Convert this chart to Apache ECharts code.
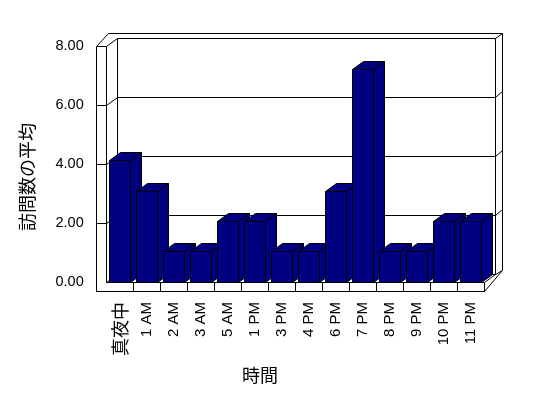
<!DOCTYPE html>
<html>
<head>
<meta charset="utf-8">
<script src="https://cdn.jsdelivr.net/npm/echarts@6/dist/echarts.min.js"></script>
<style>
html,body{margin:0;padding:0;background:#fff;}
#c{width:548px;height:398px;}
</style>
</head>
<body>
<div id="c"></div>
<script>
const categories = ["真夜中","1 AM","2 AM","3 AM","5 AM","1 PM","3 PM","4 PM","6 PM","7 PM","8 PM","9 PM","10 PM","11 PM"];
const values = [4.14, 3.08, 1.03, 1.03, 2.07, 2.07, 1.03, 1.03, 3.08, 7.22, 1.03, 1.03, 2.07, 2.07];
const yMin = 0, yMax = 8, yStep = 2;
const gridValues = [2, 4, 6];
const xName = "時間";
const yName = "訪問数の平均";

const DX = 11, DY = -8;        // depth offset of back plane / bar depth
const WALL = 10;               // left wall & floor thickness
const c = v => Math.round(v - 0.5) + 0.5;
const NAVY = '#000080';
const LINE = {stroke:'#000', lineWidth:1, fill:'none'};

const chart = echarts.init(document.getElementById('c'), null, {renderer:'canvas'});

function frameItem(params, api){
  const band = api.size([1, 0])[0];
  const p0 = api.coord([0, yMin]);
  const L = c(p0[0] - band/2);
  const R = c(L + band * categories.length);
  const Y0 = c(p0[1]);
  const YT = c(api.coord([0, yMax])[1]);
  const ch = [];
  const white = {fill:'#fff', stroke:'#000', lineWidth:1};
  // silhouette
  ch.push({type:'polygon', shape:{points:[
    [L-WALL, YT],[L+2, YT-13],[R+DX+7, YT-13],[R+DX+7, Y0+DY-4],[R, Y0+WALL-1],[L-WALL, Y0+WALL-1]
  ]}, style:white});
  // back wall inner face
  ch.push({type:'rect', shape:{x:L+DX, y:YT+DY, width:R-L, height:Y0-YT}, style:white});
  // floor top
  ch.push({type:'polygon', shape:{points:[[L,Y0],[R,Y0],[R+DX,Y0+DY],[L+DX,Y0+DY]]}, style:white});
  // top-left inner diagonal, top-right thickness
  ch.push({type:'line', shape:{x1:L, y1:YT, x2:L+DX, y2:YT+DY}, style:LINE});
  ch.push({type:'line', shape:{x1:R+DX, y1:YT+DY, x2:R+DX+7, y2:YT-13}, style:LINE});
  // floor right side
  ch.push({type:'line', shape:{x1:R+DX, y1:Y0+DY, x2:R+DX+7, y2:Y0+DY-4}, style:LINE});
  // left wall + floor front face (L shape)
  ch.push({type:'polygon', shape:{points:[
    [L-WALL, YT],[L-WALL, Y0+WALL-1],[R, Y0+WALL-1],[R, Y0],[L, Y0],[L, YT]
  ]}, style:white});
  // cell dividers on floor front
  for (let k = 1; k <= categories.length; k++){
    const x = c(L + band*k);
    ch.push({type:'line', shape:{x1:x, y1:Y0, x2:x, y2:Y0+WALL-1}, style:LINE});
  }
  // gridlines
  gridValues.forEach(v => {
    const y = c(api.coord([0, v])[1]);
    ch.push({type:'polyline', shape:{points:[
      [L-WALL, y],[L, y],[L+DX, y+DY],[R+DX, y+DY],[R+DX+7, y+DY-6]
    ]}, style:LINE});
  });
  return {type:'group', children:ch};
}

function barItem(params, api){
  const i = api.value(0), v = api.value(1);
  const base = api.coord([i, 0]);
  const top = api.coord([i, v]);
  const band = api.size([1, 0])[0];
  const w = band * 0.79;
  const x1 = c(base[0] - w/2), x2 = c(base[0] + w/2);
  const yb = c(base[1]), yt = c(top[1]);
  const st = {fill:NAVY, stroke:'#000', lineWidth:1};
  return {type:'group', children:[
    {type:'polygon', shape:{points:[[x1,yt],[x2,yt],[x2+DX,yt+DY],[x1+DX,yt+DY]]}, style:st},
    {type:'polygon', shape:{points:[[x2,yt],[x2+DX,yt+DY],[x2+DX,yb+DY],[x2,yb]]}, style:st},
    {type:'rect', shape:{x:x1, y:yt, width:x2-x1, height:yb-yt}, style:st}
  ]};
}

const option = {
  animation:false,
  backgroundColor:'#fff',
  grid:{left:106.7, right:63.7, top:46.3, bottom:116},
  xAxis:{
    type:'category',
    data:categories.map(s => /[^\x00-\x7f]/.test(s)
      ? {value:s, textStyle:{fontSize:18, fontFamily:'"Noto Sans CJK JP"'}} : s),
    boundaryGap:true,
    axisLine:{show:false}, axisTick:{show:false}, splitLine:{show:false},
    axisLabel:{rotate:90, margin:20, interval:0, color:'#000', fontSize:15, fontFamily:'"Liberation Sans", Arial'}
  },
  yAxis:{
    type:'value', min:yMin, max:yMax, interval:yStep,
    axisLine:{show:false}, axisTick:{show:false}, splitLine:{show:false},
    axisLabel:{margin:23, color:'#000', fontSize:14.5, fontFamily:'"Liberation Sans", Arial',
      formatter: v => v.toFixed(2)}
  },
  graphic:[
    {type:'text', x:27, y:177, rotation:Math.PI/2,
      style:{text:yName, font:'18px "Noto Sans CJK JP"', fill:'#000', align:'center', verticalAlign:'middle'}},
    {type:'text', x:260, y:375,
      style:{text:xName, font:'18px "Noto Sans CJK JP"', fill:'#000', align:'center', verticalAlign:'middle'}}
  ],
  series:[
    {type:'custom', name:'frame', z:1, silent:true, renderItem:frameItem, data:[[0, 0]]},
    {type:'custom', name:'bars', z:2, renderItem:barItem,
      encode:{x:0, y:1}, data:values.map((v, i) => [i, v])}
  ]
};
chart.setOption(option);
</script>
</body>
</html>
